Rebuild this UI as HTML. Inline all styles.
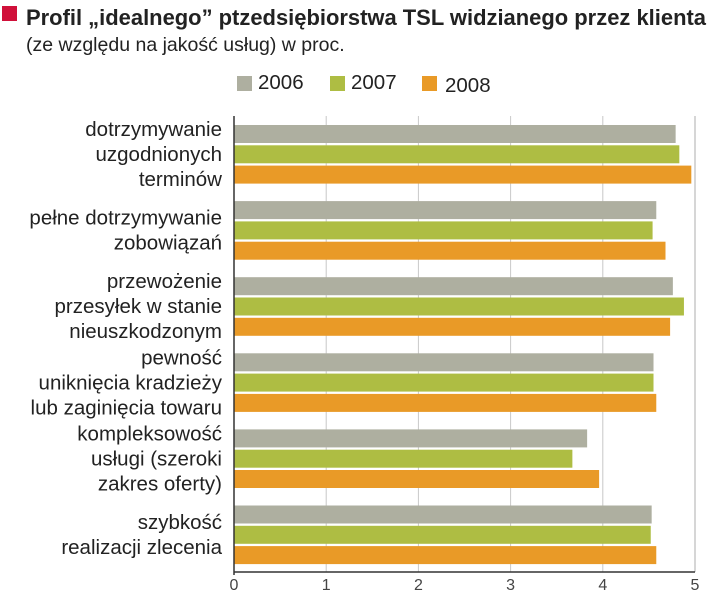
<!DOCTYPE html>
<html><head><meta charset="utf-8"><style>
body{margin:0;width:720px;height:593px;background:#fff;font-family:"Liberation Sans",sans-serif;overflow:hidden;position:relative}
</style></head><body>
<svg width="720" height="593" id="svg" style="position:absolute;left:0;top:0">
<rect x="2" y="6" width="15" height="15" fill="#d0103a"/>
<text x="26" y="25" font-size="22" font-weight="bold" fill="#222" textLength="680" lengthAdjust="spacingAndGlyphs">Profil „idealnego” ptzedsiębiorstwa TSL widzianego przez klienta</text>
<text x="26" y="51" font-size="19.5" fill="#222">(ze względu na jakość usług) w proc.</text>
</svg>
<script>
const categories=[["dotrzymywanie","uzgodnionych","terminów"],["pełne dotrzymywanie","zobowiązań"],["przewożenie","przesyłek w stanie","nieuszkodzonym"],["pewność","uniknięcia kradzieży","lub zaginięcia towaru"],["kompleksowość","usługi (szeroki","zakres oferty)"],["szybkość","realizacji zlecenia"]];
const seriesNames=["2006","2007","2008"];
const v2006=[4.79,4.58,4.76,4.55,3.83,4.53];
const v2007=[4.83,4.54,4.88,4.55,3.67,4.52];
const v2008=[4.96,4.68,4.73,4.58,3.96,4.58];
const ticks=[0,1,2,3,4,5];
{
const colors=["#aeafa0","#aebd43","#e99a27"];
const svg=document.getElementById('svg');const NS="http://www.w3.org/2000/svg";
const x0=234,x1=695,yTop=116,yBottom=572;
const xs=v=>x0+(x1-x0)*v/5;
function mk(t,a){const e=document.createElementNS(NS,t);for(const k in a)e.setAttribute(k,a[k]);svg.appendChild(e);return e;}
const lx=[237,330,422],ltx=[258,351,445],lty=[89,89,92];
seriesNames.forEach((s,i)=>{
 const r=mk('rect',{x:lx[i],y:76,width:15,height:15,fill:colors[i]});
 
 
 const t=mk('text',{x:ltx[i],y:lty[i],'font-size':20.5,fill:'#222'});t.textContent=s;
 
 
});
ticks.forEach(t=>{
 if(t>0){const g=mk('line',{x1:xs(t),x2:xs(t),y1:yTop,y2:yBottom,stroke:'#c8c8c8','stroke-width':t==5?1.5:1});
 
 }
 const l=mk('text',{x:xs(t),y:590,'font-size':16,fill:'#444','text-anchor':'middle'});l.textContent=t;
 
 
});
const series=[v2006,v2007,v2008];
categories.forEach((c,gi)=>{
 const gy=125+gi*76.1;
 series.forEach((vals,si)=>{
  const b=mk('rect',{x:x0,y:gy+si*20.3,width:xs(vals[gi])-x0,height:18,fill:colors[si]});
  
  
 });
 const cy=gy+29,n=c.length,lh=25;
 c.forEach((line,li)=>{
  const t=mk('text',{x:222,y:cy+(li-(n-1)/2)*lh+7,'font-size':20.5,fill:'#222','text-anchor':'end'});t.textContent=line;
  
  
 });
});
const ax=mk('line',{x1:x0,x2:x1,y1:yBottom,y2:yBottom,stroke:'#333','stroke-width':1.5});


const ay=mk('line',{x1:x0,x2:x0,y1:yTop,y2:yBottom+3,stroke:'#333','stroke-width':1.5});


}
</script>
</body></html>
